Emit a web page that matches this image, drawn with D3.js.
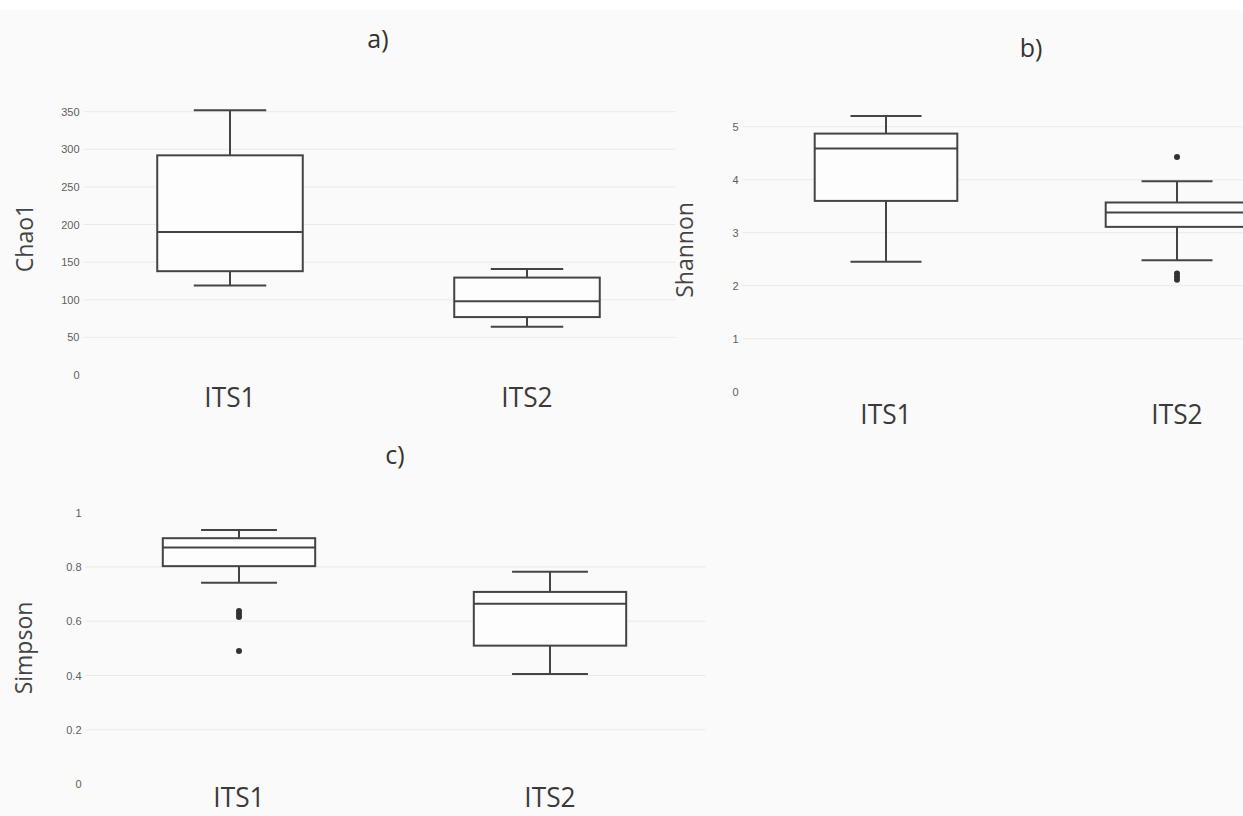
<!DOCTYPE html>
<html>
<head>
<meta charset="utf-8">
<script src="https://cdn.jsdelivr.net/npm/d3@7"></script>
<style>
    body { margin: 0; background: #fafafa; }
    svg { display: block; font-family: "Open Sans", sans-serif; }
    .tick text { fill: #5e5e5e; font-size: 11px; }
    .grid line { stroke: #eaeaea; stroke-width: 1; }
    .box rect, .box line { stroke: #444; stroke-width: 2; }
    .cat-label { fill: #3a3a3a; font-size: 28px; }
    .axis-title { fill: #444; font-size: 23px; }
    .panel-title { fill: #333; font-size: 25px; }
</style>
</head>
<body>
<svg id="svg" width="1243" height="816"></svg>
<script>
const categories = ['ITS1', 'ITS2'];

// [lower whisker, upper whisker] per category
const chao1Whisker = [[119, 352], [64, 141]];
const shannonWhisker = [[2.45, 5.2], [2.48, 3.97]];
const simpsonWhisker = [[0.742, 0.936], [0.405, 0.782]];

// [q1, median, q3] per category
const chao1Box = [[138, 190, 292], [77, 98, 129.5]];
const shannonBox = [[3.6, 4.59, 4.87], [3.11, 3.38, 3.57]];
const simpsonBox = [[0.803, 0.872, 0.906], [0.51, 0.664, 0.708]];

const chao1Outliers = [[], []];
const shannonOutliers = [[], [4.43, 2.23, 2.17, 2.11]];
const simpsonOutliers = [[0.638, 0.627, 0.616, 0.49], []];

const chao1Ticks = [0, 50, 100, 150, 200, 250, 300, 350];
const shannonTicks = [0, 1, 2, 3, 4, 5];
const simpsonTicks = [0, 0.2, 0.4, 0.6, 0.8, 1];

const panels = [
    {title: 'a)', yTitle: 'Chao1', whisker: chao1Whisker, box: chao1Box, outliers: chao1Outliers,
     ticks: chao1Ticks, grid: chao1Ticks.slice(1), yMax: 350,
     x: [81.5, 675.5], y: [375, 111.7], titlePos: [378, 48], yTitlePos: [33, 238]},
    {title: 'b)', yTitle: 'Shannon', whisker: shannonWhisker, box: shannonBox, outliers: shannonOutliers,
     ticks: shannonTicks, grid: shannonTicks.slice(1), yMax: 5,
     x: [740.5, 1322.5], y: [391.7, 126.7], titlePos: [1031, 57], yTitlePos: [693, 250]},
    {title: 'c)', yTitle: 'Simpson', whisker: simpsonWhisker, box: simpsonBox, outliers: simpsonOutliers,
     ticks: simpsonTicks, grid: simpsonTicks.slice(1, -1), yMax: 1,
     x: [83.5, 705.5], y: [784, 512.7], titlePos: [395, 464], yTitlePos: [32, 648]},
];

const svg = d3.select('#svg');

svg.append('rect').attr('width', 1243).attr('height', 10).attr('fill', '#fff');

panels.forEach(p => {
    const g = svg.append('g');

    const xScale = d3.scaleBand()
        .domain(categories)
        .range(p.x);
    const yScale = d3.scaleLinear()
        .domain([0, p.yMax])
        .range(p.y);

    // gridlines
    g.append('g')
        .attr('class', 'grid')
      .selectAll('line')
        .data(p.grid)
      .enter().append('line')
        .attr('x1', p.x[0] + 2)
        .attr('x2', p.x[1])
        .attr('y1', d => yScale(d))
        .attr('y2', d => yScale(d));

    // y axis
    const yAxis = d3.axisLeft(yScale)
        .tickValues(p.ticks)
        .tickSize(0)
        .tickPadding(2)
        .tickFormat(d => String(d));
    g.append('g')
        .attr('class', 'axis axis-y')
        .attr('transform', 'translate(' + p.x[0] + ',0)')
        .call(yAxis)
        .call(a => a.select('.domain').remove());

    // category labels (bottom panel is pulled up to stay inside the page)
    g.selectAll('.cat-label')
        .data(categories)
      .enter().append('text')
        .attr('class', 'cat-label')
        .attr('text-anchor', 'middle')
        .attr('transform', d => 'translate(' + (xScale(d) + xScale.bandwidth() / 2) + ',' + Math.min(yScale(0) + 32, 807) + ') scale(0.94,1)')
        .text(d => d);

    // boxes
    const bw = xScale.bandwidth();
    const boxes = g.selectAll('.box')
        .data(categories)
      .enter().append('g')
        .attr('class', 'box')
        .attr('transform', d => 'translate(' + (xScale(d) + bw / 2) + ',0)');

    boxes.append('line')
        .attr('y1', (d, i) => yScale(p.whisker[i][0]))
        .attr('y2', (d, i) => yScale(p.box[i][0]));
    boxes.append('line')
        .attr('y1', (d, i) => yScale(p.box[i][2]))
        .attr('y2', (d, i) => yScale(p.whisker[i][1]));
    [0, 1].forEach(k => {
        boxes.append('line')
            .attr('x1', -bw * 0.122)
            .attr('x2', bw * 0.122)
            .attr('y1', (d, i) => yScale(p.whisker[i][k]))
            .attr('y2', (d, i) => yScale(p.whisker[i][k]));
    });
    boxes.append('rect')
        .attr('x', -bw * 0.245)
        .attr('width', bw * 0.49)
        .attr('y', (d, i) => yScale(p.box[i][2]))
        .attr('height', (d, i) => yScale(p.box[i][0]) - yScale(p.box[i][2]))
        .attr('fill', '#fdfdfd');
    boxes.append('line')
        .attr('x1', -bw * 0.245)
        .attr('x2', bw * 0.245)
        .attr('y1', (d, i) => yScale(p.box[i][1]))
        .attr('y2', (d, i) => yScale(p.box[i][1]));
    boxes.each(function(d, i) {
        d3.select(this).selectAll('circle')
            .data(p.outliers[i])
          .enter().append('circle')
            .attr('r', 3)
            .attr('cy', v => yScale(v))
            .attr('fill', '#333');
    });

    // titles
    g.append('text')
        .attr('class', 'panel-title')
        .attr('text-anchor', 'middle')
        .attr('x', p.titlePos[0])
        .attr('y', p.titlePos[1])
        .text(p.title);
    g.append('text')
        .attr('class', 'axis-title')
        .attr('text-anchor', 'middle')
        .attr('transform', 'translate(' + p.yTitlePos[0] + ',' + p.yTitlePos[1] + ') rotate(-90)')
        .text(p.yTitle);
});
</script>
</body>
</html>
